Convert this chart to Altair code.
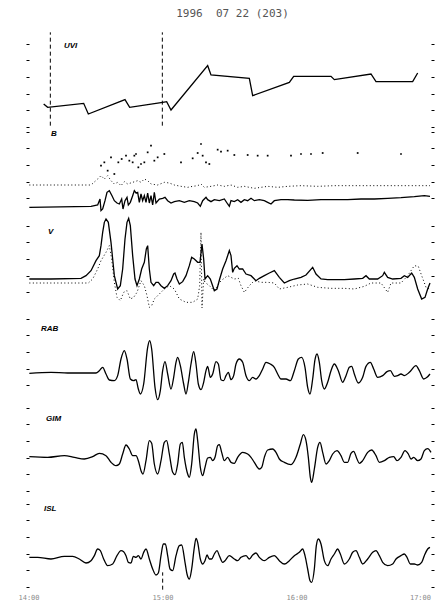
import altair as alt
import pandas as pd

# ---------------- data (x: time samples 0..1206, y: panel units) ----------------
TITLE = "1996\u00a0\u00a007\u00a022\u00a0(203)"
time_ticks = [0, 402, 804, 1206]
time_labels = ["14:00", "15:00", "16:00", "17:00"]

uvi_x = [44, 56, 164, 178, 288, 302, 401, 413, 426, 536, 546, 661, 671, 781, 794, 906, 916, 1026, 1041, 1151, 1166]
uvi_y = [69, 59, 71, 39, 82, 59, 74, 76, 51, 184, 156, 146, 94, 134, 152, 152, 142, 159, 136, 136, 162]
uvi_marks = [64, 400]

b_x = [1, 186, 206, 213, 216, 221, 228, 234, 241, 249, 256, 264, 271, 278, 282, 288, 294, 298, 304, 311,
       316, 321, 326, 331, 336, 341, 346, 351, 356, 361, 366, 371, 376, 381, 391, 401, 408, 416, 426, 436,
       451, 466, 481, 496, 506, 514, 521, 531, 536, 546, 556, 571, 586, 596, 601, 606, 616, 626, 636, 646,
       656, 666, 676, 691, 706, 716, 726, 736, 756, 776, 796, 836, 876, 916, 956, 996, 1036, 1076, 1116,
       1156, 1186, 1203]
b_y = [23, 26, 30, 48, 13, 18, 43, 68, 73, 58, 43, 36, 33, 48, 18, 43, 53, 30, 38, 58,
       73, 66, 68, 38, 63, 43, 58, 38, 66, 36, 58, 30, 68, 36, 48, 50, 53, 43, 36, 40,
       43, 38, 43, 40, 36, 26, 43, 53, 46, 40, 46, 43, 48, 33, 26, 43, 40, 46, 38, 46,
       43, 50, 43, 46, 43, 38, 33, 43, 46, 46, 45, 44, 46, 46, 46, 48, 48, 50, 52,
       55, 58, 56]

bdot_x = [1, 186, 206, 216, 226, 236, 246, 256, 266, 276, 286, 296, 311, 326, 336, 346, 356, 366, 386, 406,
          421, 436, 456, 476, 491, 506, 516, 526, 546, 566, 586, 606, 626, 646, 676, 696, 716, 746, 776, 816,
          866, 916, 1016, 1116, 1203]
bdot_y = [90, 90, 108, 118, 108, 118, 103, 93, 98, 88, 100, 93, 98, 103, 98, 108, 103, 93, 90, 98,
          96, 90, 86, 83, 86, 88, 93, 83, 86, 90, 86, 90, 83, 86, 80, 83, 86, 83, 86, 88,
          86, 88, 88, 88, 88]

bsc_x = [216, 226, 236, 246, 256, 268, 278, 291, 301, 311, 316, 321, 328, 336, 346, 356, 366, 376, 386, 406,
         456, 491, 506, 516, 521, 531, 541, 566, 576, 596, 616, 656, 686, 716, 786, 816, 846, 881, 986, 1116]
bsc_y = [148, 158, 133, 173, 123, 158, 168, 178, 163, 158, 178, 183, 143, 153, 158, 188, 208, 163, 173, 183,
         158, 170, 186, 213, 178, 158, 153, 196, 190, 193, 180, 180, 178, 178, 178, 183, 183, 186, 186, 183]

v_x = [1, 66, 156, 171, 186, 201, 211, 216, 221, 226, 231, 238, 246, 256, 266, 274, 281, 288, 294, 299,
       304, 311, 318, 324, 331, 338, 346, 352, 356, 361, 366, 374, 381, 388, 396, 406, 416, 426, 434, 438,
       444, 451, 461, 471, 481, 488, 496, 506, 513, 519, 524, 528, 536, 544, 556, 564, 572, 581, 591, 601,
       606, 611, 616, 624, 631, 641, 651, 666, 681, 691, 706, 721, 736, 751, 766, 781, 796, 816, 831, 851,
       861, 876, 896, 916, 946, 976, 1001, 1011, 1021, 1046, 1061, 1066, 1076, 1091, 1116, 1126, 1136, 1148,
       1156, 1166, 1178, 1188, 1196, 1203]
v_y = [90, 90, 92, 100, 115, 145, 160, 190, 230, 260, 270, 260, 200, 100, 60, 70, 120, 210, 260, 272,
       250, 160, 90, 70, 90, 120, 140, 180, 190, 120, 80, 70, 80, 80, 70, 62, 70, 85, 105, 108,
       90, 75, 82, 100, 130, 155, 150, 140, 140, 195, 150, 90, 100, 90, 55, 60, 90, 120, 145, 175,
       160, 110, 122, 130, 120, 120, 105, 100, 85, 92, 100, 108, 115, 95, 78, 85, 90, 95, 102, 125,
       105, 90, 88, 88, 88, 90, 92, 100, 90, 90, 100, 110, 95, 90, 92, 100, 95, 108,
       95, 60, 30, 35, 60, 78]

vdot_x = [1, 178, 191, 206, 216, 231, 241, 248, 256, 264, 274, 284, 294, 304, 314, 324, 336, 346, 354, 361,
          368, 376, 391, 406, 421, 436, 451, 471, 491, 506, 512, 516, 519, 524, 528, 541, 556, 576, 596, 616,
          628, 636, 646, 661, 676, 696, 716, 736, 751, 776, 806, 836, 866, 906, 946, 976, 1006, 1026, 1056,
          1076, 1086, 1116, 1136, 1156, 1168, 1178, 1191, 1201]
vdot_y = [78, 78, 90, 120, 145, 170, 190, 150, 80, 35, 25, 50, 55, 30, 35, 50, 85, 70, 40, 5,
          10, 30, 45, 60, 70, 60, 30, 20, 20, 30, 70, 230, 3, 90, 80, 70, 55, 85, 100, 90,
          92, 70, 50, 70, 85, 80, 80, 78, 60, 65, 72, 75, 65, 62, 62, 60, 68, 78, 78,
          50, 78, 78, 100, 130, 128, 100, 65, 60]

rab_x = [1, 66, 116, 156, 201, 211, 221, 231, 241, 256, 266, 276, 286, 294, 304, 314, 321, 328, 334, 344,
         356, 362, 368, 378, 386, 394, 401, 408, 416, 426, 434, 441, 446, 454, 464, 471, 478, 486, 494, 501,
         508, 516, 524, 531, 536, 544, 551, 561, 568, 576, 584, 591, 598, 606, 614, 621, 631, 641, 651, 661,
         671, 681, 691, 701, 711, 724, 736, 746, 756, 771, 784, 796, 808, 818, 828, 836, 843, 851, 858, 864,
         871, 878, 886, 896, 906, 916, 928, 941, 951, 961, 968, 976, 988, 1001, 1011, 1024, 1034, 1046, 1061,
         1074, 1084, 1096, 1106, 1116, 1126, 1141, 1161, 1171, 1184, 1194, 1203]
rab_y = [86, 89, 87, 87, 87, 94, 104, 84, 66, 64, 79, 129, 154, 129, 69, 64, 67, 39, 24, 54,
         164, 184, 159, 44, 7, 34, 94, 121, 84, 39, 74, 119, 134, 109, 54, 24, 59, 114, 151, 114,
         54, 37, 59, 94, 107, 74, 84, 121, 114, 67, 64, 79, 89, 67, 79, 114, 129, 119, 79, 64,
         74, 69, 79, 99, 119, 114, 104, 84, 69, 69, 64, 94, 129, 134, 104, 44, 24, 69, 127, 144,
         119, 64, 39, 59, 94, 114, 94, 59, 79, 104, 107, 84, 57, 74, 107, 119, 99, 74, 79,
         91, 94, 77, 79, 84, 79, 89, 109, 94, 69, 74, 84]

gim_x = [1, 56, 106, 136, 166, 191, 211, 231, 246, 261, 271, 281, 291, 301, 311, 321, 328, 336, 342, 351,
         361, 368, 376, 386, 396, 406, 413, 421, 431, 438, 446, 454, 460, 466, 476, 481, 488, 496, 501, 506,
         514, 521, 528, 536, 544, 551, 558, 566, 571, 578, 586, 596, 606, 616, 626, 641, 656, 666, 676, 691,
         698, 706, 716, 731, 741, 751, 766, 786, 801, 814, 823, 831, 838, 844, 848, 856, 866, 873, 881, 891,
         901, 911, 924, 936, 946, 956, 966, 974, 984, 991, 1001, 1016, 1028, 1041, 1051, 1066, 1081, 1094,
         1104, 1116, 1128, 1138, 1146, 1154, 1166, 1176, 1186, 1196, 1206]
gim_y = [103, 101, 106, 101, 96, 103, 113, 106, 86, 76, 81, 111, 138, 126, 106, 106, 91, 61, 51, 91,
         151, 143, 81, 51, 91, 146, 151, 111, 56, 49, 81, 141, 146, 101, 51, 41, 81, 171, 186, 151,
         71, 46, 71, 99, 101, 91, 101, 136, 139, 116, 91, 101, 86, 83, 101, 116, 111, 101, 86, 66,
         71, 101, 123, 126, 116, 96, 86, 79, 101, 141, 169, 151, 101, 41, 26, 66, 131, 146, 116, 81,
         91, 111, 121, 106, 86, 86, 113, 119, 96, 83, 91, 116, 123, 106, 86, 91, 101, 103,
         91, 101, 121, 111, 96, 101, 91, 96, 121, 127, 116]

isl_x = [1, 26, 66, 106, 131, 151, 171, 186, 196, 206, 214, 224, 236, 251, 264, 276, 284, 291, 298, 306,
         313, 321, 328, 336, 344, 351, 361, 371, 381, 388, 396, 403, 409, 416, 423, 431, 441, 451, 458, 468,
         474, 481, 488, 496, 501, 506, 514, 521, 528, 534, 541, 548, 556, 564, 571, 581, 588, 601, 616, 626,
         636, 651, 661, 671, 681, 691, 706, 721, 736, 751, 766, 781, 796, 811, 821, 828, 836, 843, 848, 856,
         862, 868, 876, 886, 896, 906, 916, 926, 934, 946, 961, 971, 981, 991, 1001, 1016, 1031, 1041, 1051,
         1061, 1076, 1091, 1101, 1116, 1126, 1134, 1144, 1156, 1166, 1178, 1186, 1196, 1203]
isl_y = [89, 89, 84, 92, 92, 84, 72, 79, 94, 114, 109, 84, 64, 69, 94, 109, 106, 94, 74, 72,
         92, 89, 94, 84, 104, 114, 84, 54, 36, 42, 94, 129, 129, 94, 54, 49, 94, 124, 126, 74,
         39, 24, 54, 119, 146, 134, 84, 69, 79, 96, 84, 84, 99, 109, 94, 74, 79, 94, 84, 79,
         89, 94, 84, 96, 102, 89, 79, 89, 94, 79, 69, 79, 94, 104, 114, 94, 54, 19, 14, 54,
         124, 144, 129, 79, 64, 84, 99, 114, 99, 69, 84, 104, 109, 89, 69, 84, 104, 109, 94,
         74, 64, 69, 84, 94, 99, 89, 69, 69, 66, 74, 94, 114, 119]
isl_marks = [401]

W = 402
FONT = "Liberation Sans"
XS = alt.Scale(domain=[0, 1206], nice=False, zero=False)


def yaxis(orient):
    return alt.Axis(orient=orient, labels=False, domain=False, grid=False, ticks=True,
                    tickSize=3, tickColor="black", tickWidth=1, title=None, tickCount=5)


def panel(lines, label, label_pos, domain, height, bottom=False, marks=None, mark_range=None):
    ys = alt.Scale(domain=domain, nice=False, zero=False)
    layers = []
    first = True
    for (xv, yv, style) in lines:
        df = pd.DataFrame({"t": xv, "v": yv})
        if style == "solid":
            m = alt.Chart(df).mark_line(color="black", strokeWidth=1.3)
        elif style == "smooth":
            m = alt.Chart(df).mark_line(color="black", strokeWidth=1.3, interpolate="monotone")
        elif style == "dotted":
            m = alt.Chart(df).mark_line(color="black", strokeWidth=1, strokeDash=[1, 2.5])
        else:
            m = alt.Chart(df).mark_square(color="black", size=3, opacity=1)
        m = m.encode(
            x=alt.X("t:Q", scale=XS, axis=None),
            y=alt.Y("v:Q", scale=ys, axis=yaxis("left") if first else None),
        )
        layers.append(m)
        first = False
    # right-hand tick axis
    df0 = pd.DataFrame({"t": lines[0][0], "v": lines[0][1]})
    layers.append(alt.Chart(df0).mark_line(opacity=0).encode(
        x=alt.X("t:Q", scale=XS, axis=None),
        y=alt.Y("v:Q", scale=ys, axis=yaxis("right"))))
    if marks is not None:
        rdf = pd.DataFrame({"t": marks, "lo": [mark_range[0]] * len(marks), "hi": [mark_range[1]] * len(marks)})
        layers.append(alt.Chart(rdf).mark_rule(color="black", strokeWidth=1, strokeDash=[4, 3]).encode(
            x=alt.X("t:Q", scale=XS, axis=None),
            y=alt.Y("lo:Q", scale=ys, axis=None), y2="hi:Q"))
    if bottom:
        for sl, al in ((slice(0, -1), "center"), (slice(-1, None), "right")):
            tdf = pd.DataFrame({"t": time_ticks[sl], "lab": time_labels[sl]})
            layers.append(alt.Chart(tdf).mark_text(
                font="DejaVu Sans Mono", fontSize=7, color="#8c8c8c", align=al, baseline="middle").encode(
                x=alt.X("t:Q", scale=XS, axis=None),
                y=alt.Y(datum=domain[0] - 32, scale=ys, axis=None),
                text="lab:N"))
    lab = alt.Chart(pd.DataFrame({"name": [label]})).mark_text(
        font=FONT, fontSize=8, fontStyle="italic", fontWeight="bold", align="left",
        baseline="middle", color="black").encode(
        x=alt.X(datum=label_pos[0], scale=XS, axis=None),
        y=alt.Y(datum=label_pos[1], scale=ys, axis=None), text="name:N")
    layers.append(lab)
    return alt.layer(*layers).resolve_axis(y="independent").properties(width=W, height=height)


p_uvi = panel([(uvi_x, uvi_y, "solid")], "UVI", (105, 243), [0, 288], 96, marks=uvi_marks, mark_range=(4, 284))
p_b = panel([(b_x, b_y, "solid"), (bdot_x, bdot_y, "dotted"), (bsc_x, bsc_y, "dots")], "B", (66, 243), [6, 255], 83)
p_v = panel([(v_x, v_y, "solid"), (vdot_x, vdot_y, "dotted")], "V", (57, 231), [3, 279], 92)
p_rab = panel([(rab_x, rab_y, "smooth")], "RAB", (36, 219), [3, 273], 90)
p_gim = panel([(gim_x, gim_y, "smooth")], "GIM", (51, 216), [0, 261], 87)
p_isl = panel([(isl_x, isl_y, "smooth")], "ISL", (45, 234), [0, 279], 93, bottom=True,
              marks=isl_marks, mark_range=(-8, 44))

chart = alt.vconcat(p_uvi, p_b, p_v, p_rab, p_gim, p_isl, spacing=3, bounds="flush").properties(
    title=alt.TitleParams(TITLE, fontSize=11, font="DejaVu Sans Mono", fontWeight="normal",
                          color="#555", anchor="middle", offset=9, dy=-3, dx=6),
    padding={"left": 10, "top": 0, "right": 2, "bottom": 0},
).configure(background="white", view=alt.ViewConfig(stroke="transparent", strokeWidth=0))

chart.save("out.html", embed_options={"renderer": "svg", "actions": False})
